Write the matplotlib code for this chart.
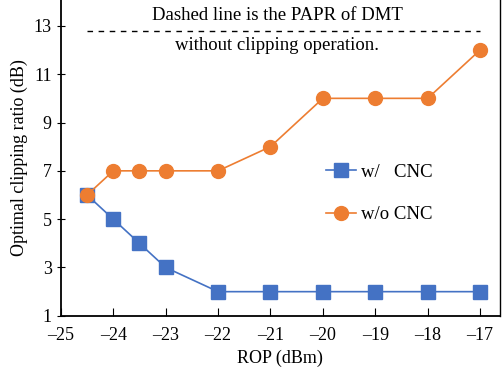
import matplotlib
matplotlib.use("Agg")
import matplotlib.pyplot as plt

plt.rcParams['font.family'] = ['Liberation Serif', 'DejaVu Serif']

rop = [-24.5, -24, -23.5, -23, -22, -21, -20, -19, -18, -17]
with_cnc = [6, 5, 4, 3, 2, 2, 2, 2, 2, 2]
without_cnc = [6, 7, 7, 7, 7, 8, 10, 10, 10, 12]
papr_x = [-24.5, -17]
papr_db = [12.8, 12.8]

xticks = [-25, -24, -23, -22, -21, -20, -19, -18, -17]
yticks = [1, 3, 5, 7, 9, 11, 13]

blue = '#4472C4'
orange = '#ED7D31'

fig = plt.figure(figsize=(5.03, 3.72), dpi=100)
ax = fig.add_axes([0.121, 0.151, 0.873, 0.849])

ax.plot(papr_x, papr_db, color='black', linestyle=(0, (4, 4)), linewidth=1.0)
ax.plot(rop, with_cnc, color=blue, marker='s', markersize=10, linewidth=1.2,
        label='w/   CNC')
ax.plot(rop, without_cnc, color=orange, marker='o', markersize=10, linewidth=1.2,
        label='w/o CNC')

ax.text(-20.87, 13.41, 'Dashed line is the PAPR of DMT', ha='center', va='center', fontsize=13.5)
ax.text(-20.87, 12.17, 'without clipping operation.', ha='center', va='center', fontsize=13.5)

ax.set_xlim(-25, -16.62)
ax.set_ylim(1, 14.07)
ax.set_xticks(xticks)
ax.set_xticklabels(['\u2013' + str(abs(v)) for v in xticks])
ax.set_yticks(yticks)
ax.tick_params(axis='x', direction='in', length=6, labelsize=13, pad=8)
ax.tick_params(axis='y', direction='inout', length=6, labelsize=13)
ax.spines['top'].set_visible(False)
ax.spines['left'].set_linewidth(1.3)
ax.spines['bottom'].set_linewidth(1.3)
ax.spines['right'].set_linewidth(1.0)

ax.set_xlabel('ROP (dBm)', fontsize=13, labelpad=4)
ax.set_ylabel('Optimal clipping ratio (dB)', fontsize=13)

ax.legend(loc='center left', bbox_to_anchor=(0.565, 0.388), frameon=False, fontsize=13.5,
          handlelength=1.6, handletextpad=0.3, labelspacing=1.35)

fig.savefig('out.png', dpi=100)
